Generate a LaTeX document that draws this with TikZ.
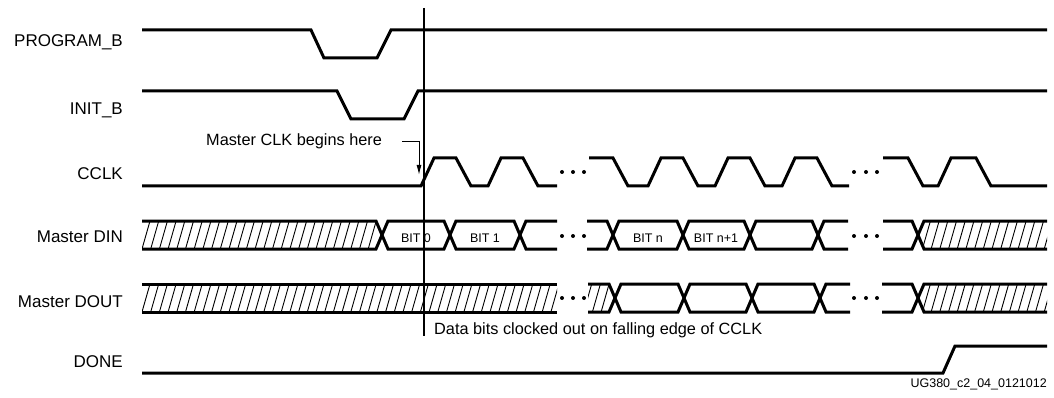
\documentclass[tikz,border=0pt]{standalone}
\usepackage{fontspec}
\setmainfont{Liberation Sans}
\usetikzlibrary{arrows.meta}

\begin{document}
\begin{tikzpicture}[
    x=1pt, y=-1pt,
    wave/.style={line width=3pt},
    hatch/.style={line width=0.9pt},
    marker/.style={line width=1.2pt},
    sig/.style={anchor=base east, inner sep=0pt, font=\fontsize{17}{20}\selectfont},
    note/.style={anchor=base west, inner sep=0pt, font=\fontsize{16.3}{19}\selectfont},
    bit/.style={anchor=base, inner sep=0pt, font=\fontsize{12.5}{15}\selectfont}
  ]
    \useasboundingbox (0,0) rectangle (1054,398);

    % signal names
    \node[sig] (progb) at (123,47) {PROGRAM\_B};
    \node[sig] (initb) at (123,115) {INIT\_B};
    \node[sig] (cclk) at (123,180) {CCLK};
    \node[sig] (din) at (123,242) {Master DIN};
    \node[sig] (dout) at (123,307) {Master DOUT};
    \node[sig] (done) at (123,367) {DONE};

    % PROGRAM_B, INIT_B, DONE
    \draw[wave] (142,30) -- (311,30) -- (324,58) -- (377,58) -- (391,30) -- (1047,30);
    \draw[wave] (142,91) -- (337,91) -- (351,119) -- (404,119) -- (418,91) -- (1047,91);
    \draw[wave] (142,373) -- (943,373) -- (955,346) -- (1047,346);

    % CCLK
    \draw[wave] (142,186) -- (421,186)
      \foreach \k in {1,2} { -- ++(13,-28) -- ++(22,0) -- ++(15,28) -- ++(17,0) } -- (557,186);
    \draw[wave] (589,158) -- (613,158) -- ++(15,28) -- (648,186)
      \foreach \k in {1,2,3} { -- ++(13,-28) -- ++(22,0) -- ++(15,28) -- ++(17,0) };
    \draw[wave] (883,158) -- (908,158) -- ++(15,28) -- ++(15,0) -- ++(13,-28) -- ++(25,0)
      -- ++(15,28) -- (1047,186);

    % hatching
    \begin{scope}
      \clip (142,221) -- (376,221) -- (382,235) -- (376,249) -- (142,249) -- cycle;
      \foreach \x in {142,150.7,...,390} \draw[hatch] (\x,249) -- ++(8,-28);
    \end{scope}
    \begin{scope}
      \clip (1047,221) -- (924,221) -- (918,235) -- (924,249) -- (1047,249) -- cycle;
      \foreach \x in {905,913.7,...,1050} \draw[hatch] (\x,249) -- ++(8,-28);
    \end{scope}
    \begin{scope}
      \clip (142,284) rectangle (557,312);
      \foreach \x in {142,150.7,...,560} \draw[hatch] (\x,312) -- ++(8,-28);
    \end{scope}
    \begin{scope}
      \clip (588,284) -- (609,284) -- (615,298) -- (609,312) -- (588,312) -- cycle;
      \foreach \x in {575,583.7,...,620} \draw[hatch] (\x,312) -- ++(8,-28);
    \end{scope}
    \begin{scope}
      \clip (1047,284) -- (924,284) -- (918,298) -- (924,312) -- (1047,312) -- cycle;
      \foreach \x in {905,913.7,...,1050} \draw[hatch] (\x,312) -- ++(8,-28);
    \end{scope}

    % Master DIN
    \foreach \t/\b in {221/249, 249/221} {
      \draw[wave] (142,\t) -- (376,\t) -- (388,\b) -- (444,\b) -- (456,\t) -- (514,\t) -- (526,\b) -- (557,\b);
      \draw[wave] (587,\t) -- (607,\t) -- (619,\b) -- (677,\b) -- (689,\t) -- (744,\t) -- (756,\b)
        -- (812,\b) -- (824,\t) -- (848,\t);
      \draw[wave] (883,\t) -- (912,\t) -- (924,\b) -- (1047,\b);
    }
    \node[bit] (bit0) at (416,242.5) {BIT 0};
    \node[bit] (bit1) at (485,242.5) {BIT 1};
    \node[bit] (bitn) at (648,242.5) {BIT n};
    \node[bit] (bitn1) at (716,242.5) {BIT n+1};

    % Master DOUT
    \foreach \t/\b in {284/312, 312/284} {
      \draw[wave] (142,\t) -- (557,\t);
      \draw[wave] (588,\t) -- (609,\t) -- (621,\b) -- (678,\b) -- (690,\t) -- (746,\t) -- (758,\b)
        -- (814,\b) -- (826,\t) -- (850,\t);
      \draw[wave] (882,\t) -- (912,\t) -- (924,\b) -- (1047,\b);
    }

    % gaps
    \foreach \y in {172,236,298} {
      \foreach \x in {562,573,584,854,866,877} \fill (\x,\y) circle (2pt);
    }

    % marker and notes
    \coordinate (mtop) at (424,8);
    \coordinate (mbot) at (424,336);
    \draw[marker] (mtop) -- (mbot);
    \node[note] (clknote) at (206,146) {Master CLK begins here};
    \coordinate (clkarr) at (402,142);
    \coordinate (clkedge) at (419,175);
    \draw[line width=1pt, -{Latex[length=10pt,width=5pt]}] (clkarr) -| (clkedge);
    \node[note] (datanote) at (434,334) {Data bits clocked out on falling edge of CCLK};
    \node[anchor=base east, inner sep=0pt, font=\fontsize{12.5}{15}\selectfont] (figid) at (1047,387) {UG380\_c2\_04\_0121012};
  \end{tikzpicture}
\end{document}
